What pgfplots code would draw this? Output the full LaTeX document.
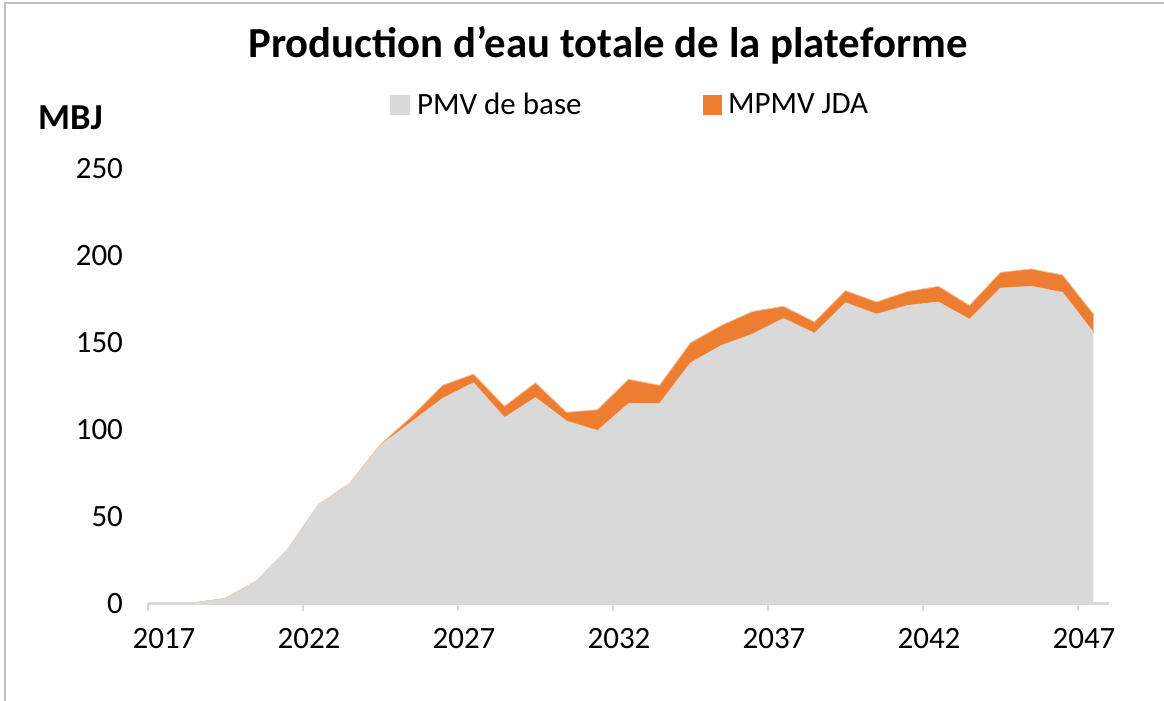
\documentclass[border=0pt]{standalone}
\usepackage{fontspec}
\setmainfont{Carlito}
\usepackage{pgfplots}
\pgfplotsset{compat=1.18}
\definecolor{xlgray}{HTML}{D9D9D9}
\definecolor{xlorange}{HTML}{ED7D31}
\definecolor{xlaxis}{HTML}{D9D9D9}
\definecolor{frame}{HTML}{BFBFBF}
\begin{document}
\begin{tikzpicture}[x=0.5pt,y=0.5pt]
\useasboundingbox (0,0) rectangle (1164,701);
\draw[frame, line width=1pt] (5,0) -- (5,698) -- (1164,698);
\begin{axis}[
  at={(74pt,48.75pt)}, anchor=south west,
  scale only axis, width=480.5pt, height=217.25pt,
  xmin=2017, xmax=2048, ymin=0, ymax=250,
  axis lines*=left,
  y axis line style={draw=none},
  x axis line style={xlaxis, line width=1.2pt},
  xtick={2022,2027,...,2047},
  extra x ticks={2017},
  extra x tick style={xticklabel style={xshift=5pt}},
  xtick style={xlaxis, line width=1.2pt},
  ytick={0,50,...,250},
  ytick style={draw=none},
  tick align=outside, major tick length=4pt,
  /pgf/number format/assume math mode=true,
  /pgf/number format/set thousands separator={},
  tick label style={font=\fontsize{15.5}{18}\selectfont, text=black},
  xticklabel style={yshift=-5pt, xshift=3pt},
  yticklabel style={xshift=-5pt},
  stack plots=y, area style,
  clip=false,
]
\addplot[draw=none, fill=xlgray] coordinates {
(2017.5,0) (2018.5,0.5) (2019.5,3) (2020.5,13) (2021.5,31) (2022.5,57)
(2023.5,69) (2024.5,91) (2025.5,104.5) (2026.5,118) (2027.5,127)
(2028.5,107) (2029.5,118.5) (2030.5,105) (2031.5,99.5) (2032.5,115)
(2033.5,115) (2034.5,138.5) (2035.5,148.5) (2036.5,155) (2037.5,164)
(2038.5,155.5) (2039.5,173) (2040.5,166.5) (2041.5,171.5) (2042.5,173.5)
(2043.5,163.5) (2044.5,181.5) (2045.5,182.5) (2046.5,179) (2047.5,156)
} \closedcycle;
\addplot[draw=xlorange!50, line width=0.4pt, fill=xlorange] coordinates {
(2017.5,0) (2018.5,0) (2019.5,0) (2020.5,0) (2021.5,0) (2022.5,0)
(2023.5,0) (2024.5,0.5) (2025.5,3) (2026.5,7.5) (2027.5,5)
(2028.5,6.5) (2029.5,8.5) (2030.5,5) (2031.5,12) (2032.5,14)
(2033.5,10.5) (2034.5,11.5) (2035.5,11.5) (2036.5,13) (2037.5,7)
(2038.5,6.5) (2039.5,7) (2040.5,7) (2041.5,8) (2042.5,9)
(2043.5,8) (2044.5,9) (2045.5,10) (2046.5,10) (2047.5,10.5)
} \closedcycle;
\end{axis}
\node[font=\bfseries\fontsize{21.4}{25}\selectfont] at (608,656) {Production d’eau totale de la plateforme};
\node[font=\bfseries\fontsize{18.3}{21}\selectfont, anchor=west] at (31,583) {MBJ};
\fill[xlgray] (390,586) rectangle (410,606);
\node[font=\fontsize{15.5}{18}\selectfont, anchor=west] at (410,597) {PMV de base};
\fill[xlorange] (703,586) rectangle (722,606);
\node[font=\fontsize{15.5}{18}\selectfont, anchor=west] at (721,597) {MPMV JDA};
\end{tikzpicture}
\end{document}
